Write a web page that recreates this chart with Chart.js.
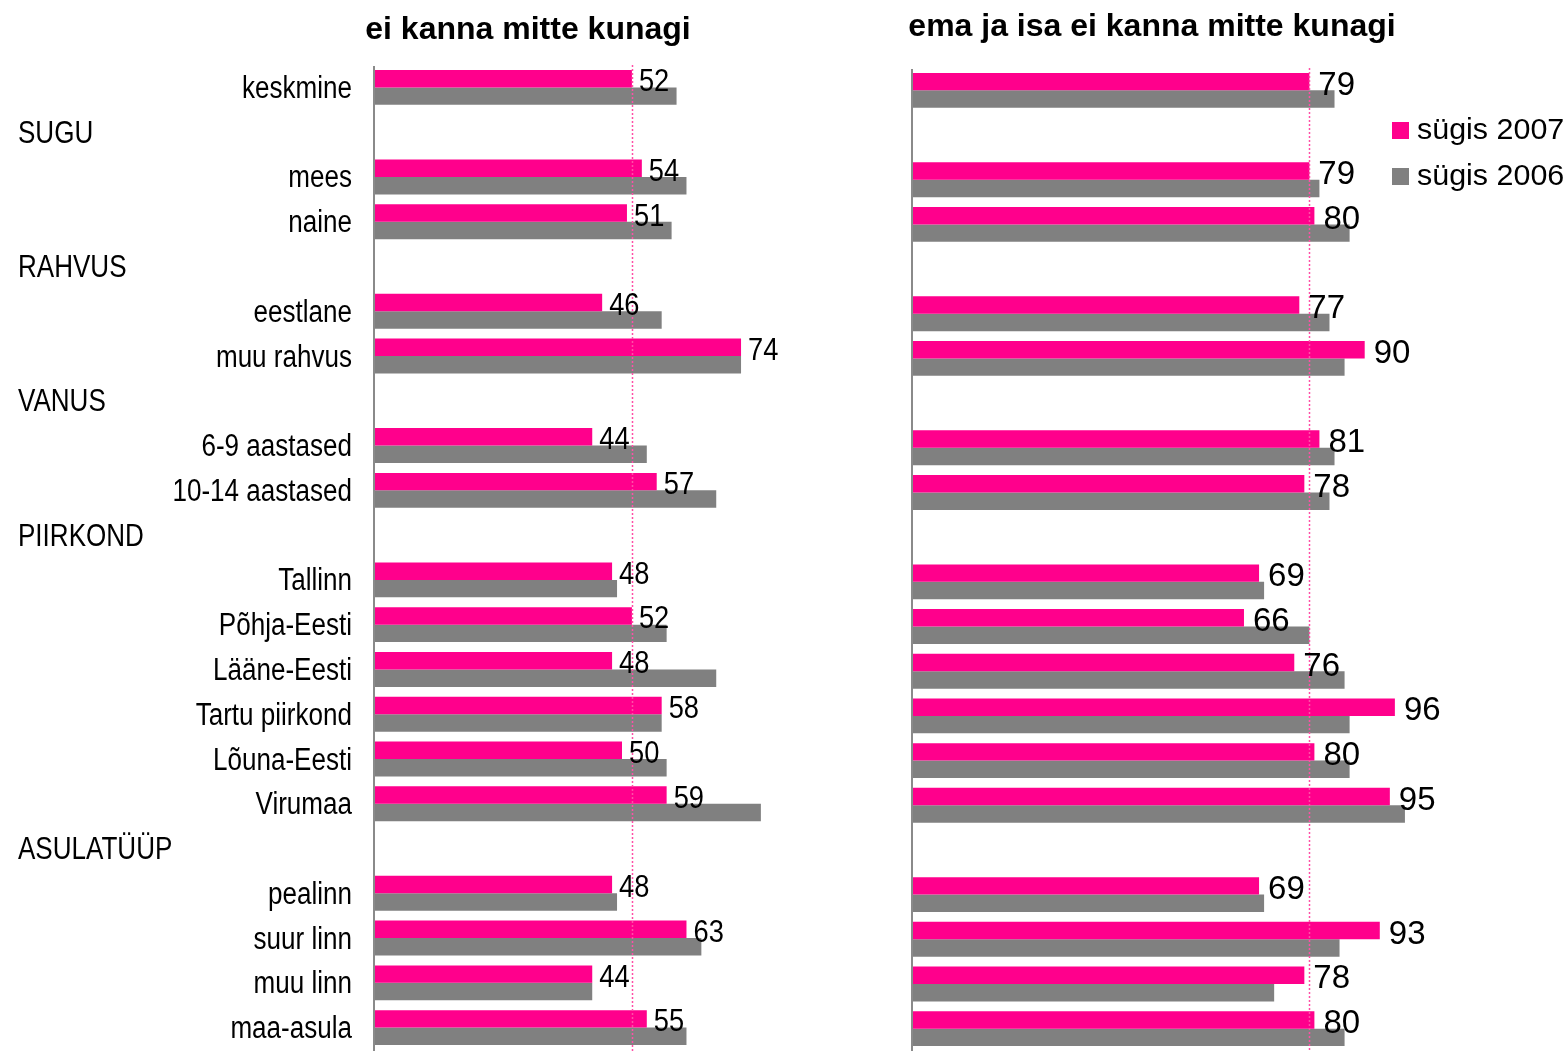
<!DOCTYPE html>
<html>
<head>
<meta charset="utf-8">
<script src="https://cdn.jsdelivr.net/npm/chart.js@4/dist/chart.umd.min.js"></script>
<style>
  html, body { margin: 0; padding: 0; background: #fff; }
  #wrap { position: relative; width: 1568px; height: 1051px; overflow: hidden; }
  #leftBox { position: absolute; left: 0; top: 0; width: 890px; height: 1051px; }
  #rightBox { position: absolute; left: 890px; top: 0; width: 678px; height: 1051px; }
</style>
</head>
<body>
<div id="wrap">
  <div id="leftBox"><canvas id="leftChart" width="890" height="1051"></canvas></div>
  <div id="rightBox"><canvas id="rightChart" width="678" height="1051"></canvas></div>
</div>
<script>
// rows, top to bottom; group headings have no bars
const categories = ['keskmine', 'SUGU', 'mees', 'naine', 'RAHVUS', 'eestlane', 'muu rahvus',
  'VANUS', '6-9 aastased', '10-14 aastased', 'PIIRKOND', 'Tallinn', 'Põhja-Eesti', 'Lääne-Eesti',
  'Tartu piirkond', 'Lõuna-Eesti', 'Virumaa', 'ASULATÜÜP', 'pealinn', 'suur linn', 'muu linn', 'maa-asula'];
const groupHeaders = ['SUGU', 'RAHVUS', 'VANUS', 'PIIRKOND', 'ASULATÜÜP'];

const seriesNames = ['sügis 2007', 'sügis 2006'];

// "ei kanna mitte kunagi"
const left2007 = [52, null, 54, 51, null, 46, 74, null, 44, 57, null, 48, 52, 48, 58, 50, 59, null, 48, 63, 44, 55];
const left2006 = [61, null, 63, 60, null, 58, 74, null, 55, 69, null, 49, 59, 69, 58, 59, 78, null, 49, 66, 44, 63];

// "ema ja isa ei kanna mitte kunagi"
const right2007 = [79, null, 79, 80, null, 77, 90, null, 81, 78, null, 69, 66, 76, 96, 80, 95, null, 69, 93, 78, 80];
const right2006 = [84, null, 81, 87, null, 83, 86, null, 84, 83, null, 70, 79, 86, 87, 87, 98, null, 70, 85, 72, 86];

const PINK = '#ff008c';
const GREY = '#808080';
const FONT = "'Liberation Sans', Arial, sans-serif";

function scaledText(ctx, text, x, y, font, align, sx) {
  ctx.save();
  ctx.font = font;
  ctx.textAlign = align;
  ctx.textBaseline = 'middle';
  ctx.fillStyle = '#000';
  ctx.translate(x, y);
  ctx.scale(sx, 1);
  ctx.fillText(text, 0, 0);
  ctx.restore();
}

const panelDecor = {
  id: 'panelDecor',
  afterDraw(chart, args, o) {
    const ctx = chart.ctx;
    const area = chart.chartArea;
    const xs = chart.scales.x;
    const ys = chart.scales.y;

    // vertical axis line
    ctx.save();
    ctx.strokeStyle = '#8a8a8a';
    ctx.lineWidth = 2;
    ctx.beginPath();
    ctx.moveTo(area.left, area.top + 1);
    ctx.lineTo(area.left, chart.height);
    ctx.stroke();

    // dotted line at the average (keskmine 2007)
    const avgX = Math.round(xs.getPixelForValue(chart.data.datasets[0].data[0])) + 0.5;
    ctx.strokeStyle = '#ff4fa6';
    ctx.lineWidth = 1.5;
    ctx.setLineDash([2, 2]);
    ctx.beginPath();
    ctx.moveTo(avgX, area.top);
    ctx.lineTo(avgX, chart.height);
    ctx.stroke();
    ctx.restore();

    // value labels for the 2007 bars
    const meta = chart.getDatasetMeta(0);
    chart.data.datasets[0].data.forEach((v, i) => {
      if (v == null) return;
      const bar = meta.data[i];
      scaledText(ctx, String(v), xs.getPixelForValue(v) + o.numGap, bar.y + 4, o.numFont, 'left', o.numScale);
    });

    // category labels and group headings
    if (o.categoryLabels) {
      categories.forEach((c, i) => {
        const y = ys.getPixelForValue(i) + 2;
        if (groupHeaders.includes(c)) {
          scaledText(ctx, c, 18, y, '31px ' + FONT, 'left', 0.84);
        } else {
          scaledText(ctx, c, area.left - 22, y, '31px ' + FONT, 'right', 0.84);
        }
      });
    }

    // panel title
    scaledText(ctx, o.title, o.titleX, o.titleY, 'bold 32px ' + FONT, 'center', 1);

    // legend
    if (o.legend) {
      const colors = [PINK, GREY];
      seriesNames.forEach((name, k) => {
        const cy = 131 + k * 46;
        ctx.fillStyle = colors[k];
        ctx.fillRect(o.legendX, cy - 9, 17, 17);
        scaledText(ctx, name, o.legendX + 25, cy, '29px ' + FONT, 'left', 1.05);
      });
    }
  }
};

function makeChart(id, d2007, d2006, padding, decor) {
  return new Chart(document.getElementById(id), {
    type: 'bar',
    data: {
      labels: categories,
      datasets: [
        { label: seriesNames[0], data: d2007, backgroundColor: PINK },
        { label: seriesNames[1], data: d2006, backgroundColor: GREY }
      ]
    },
    options: {
      indexAxis: 'y',
      responsive: false,
      animation: false,
      devicePixelRatio: 1,
      categoryPercentage: 0.78,
      barPercentage: 1.0,
      layout: { padding: padding },
      scales: {
        x: { display: false, min: 0, max: 100 },
        y: { display: false }
      },
      plugins: {
        legend: { display: false },
        tooltip: { enabled: false },
        panelDecor: decor
      }
    },
    plugins: [panelDecor]
  });
}

makeChart('leftChart', left2007, left2006,
  { left: 374, right: 20, top: 65, bottom: 1 },
  { title: 'ei kanna mitte kunagi', titleX: 528, titleY: 30, categoryLabels: true,
    numFont: '31px ' + FONT, numScale: 0.88, numGap: 7, legend: false });

makeChart('rightChart', right2007, right2006,
  { left: 22, right: 153, top: 68, bottom: 0 },
  { title: 'ema ja isa ei kanna mitte kunagi', titleX: 262, titleY: 27, categoryLabels: false,
    numFont: '33px ' + FONT, numScale: 1.0, numGap: 9, legend: true, legendX: 502 });
</script>
</body>
</html>
